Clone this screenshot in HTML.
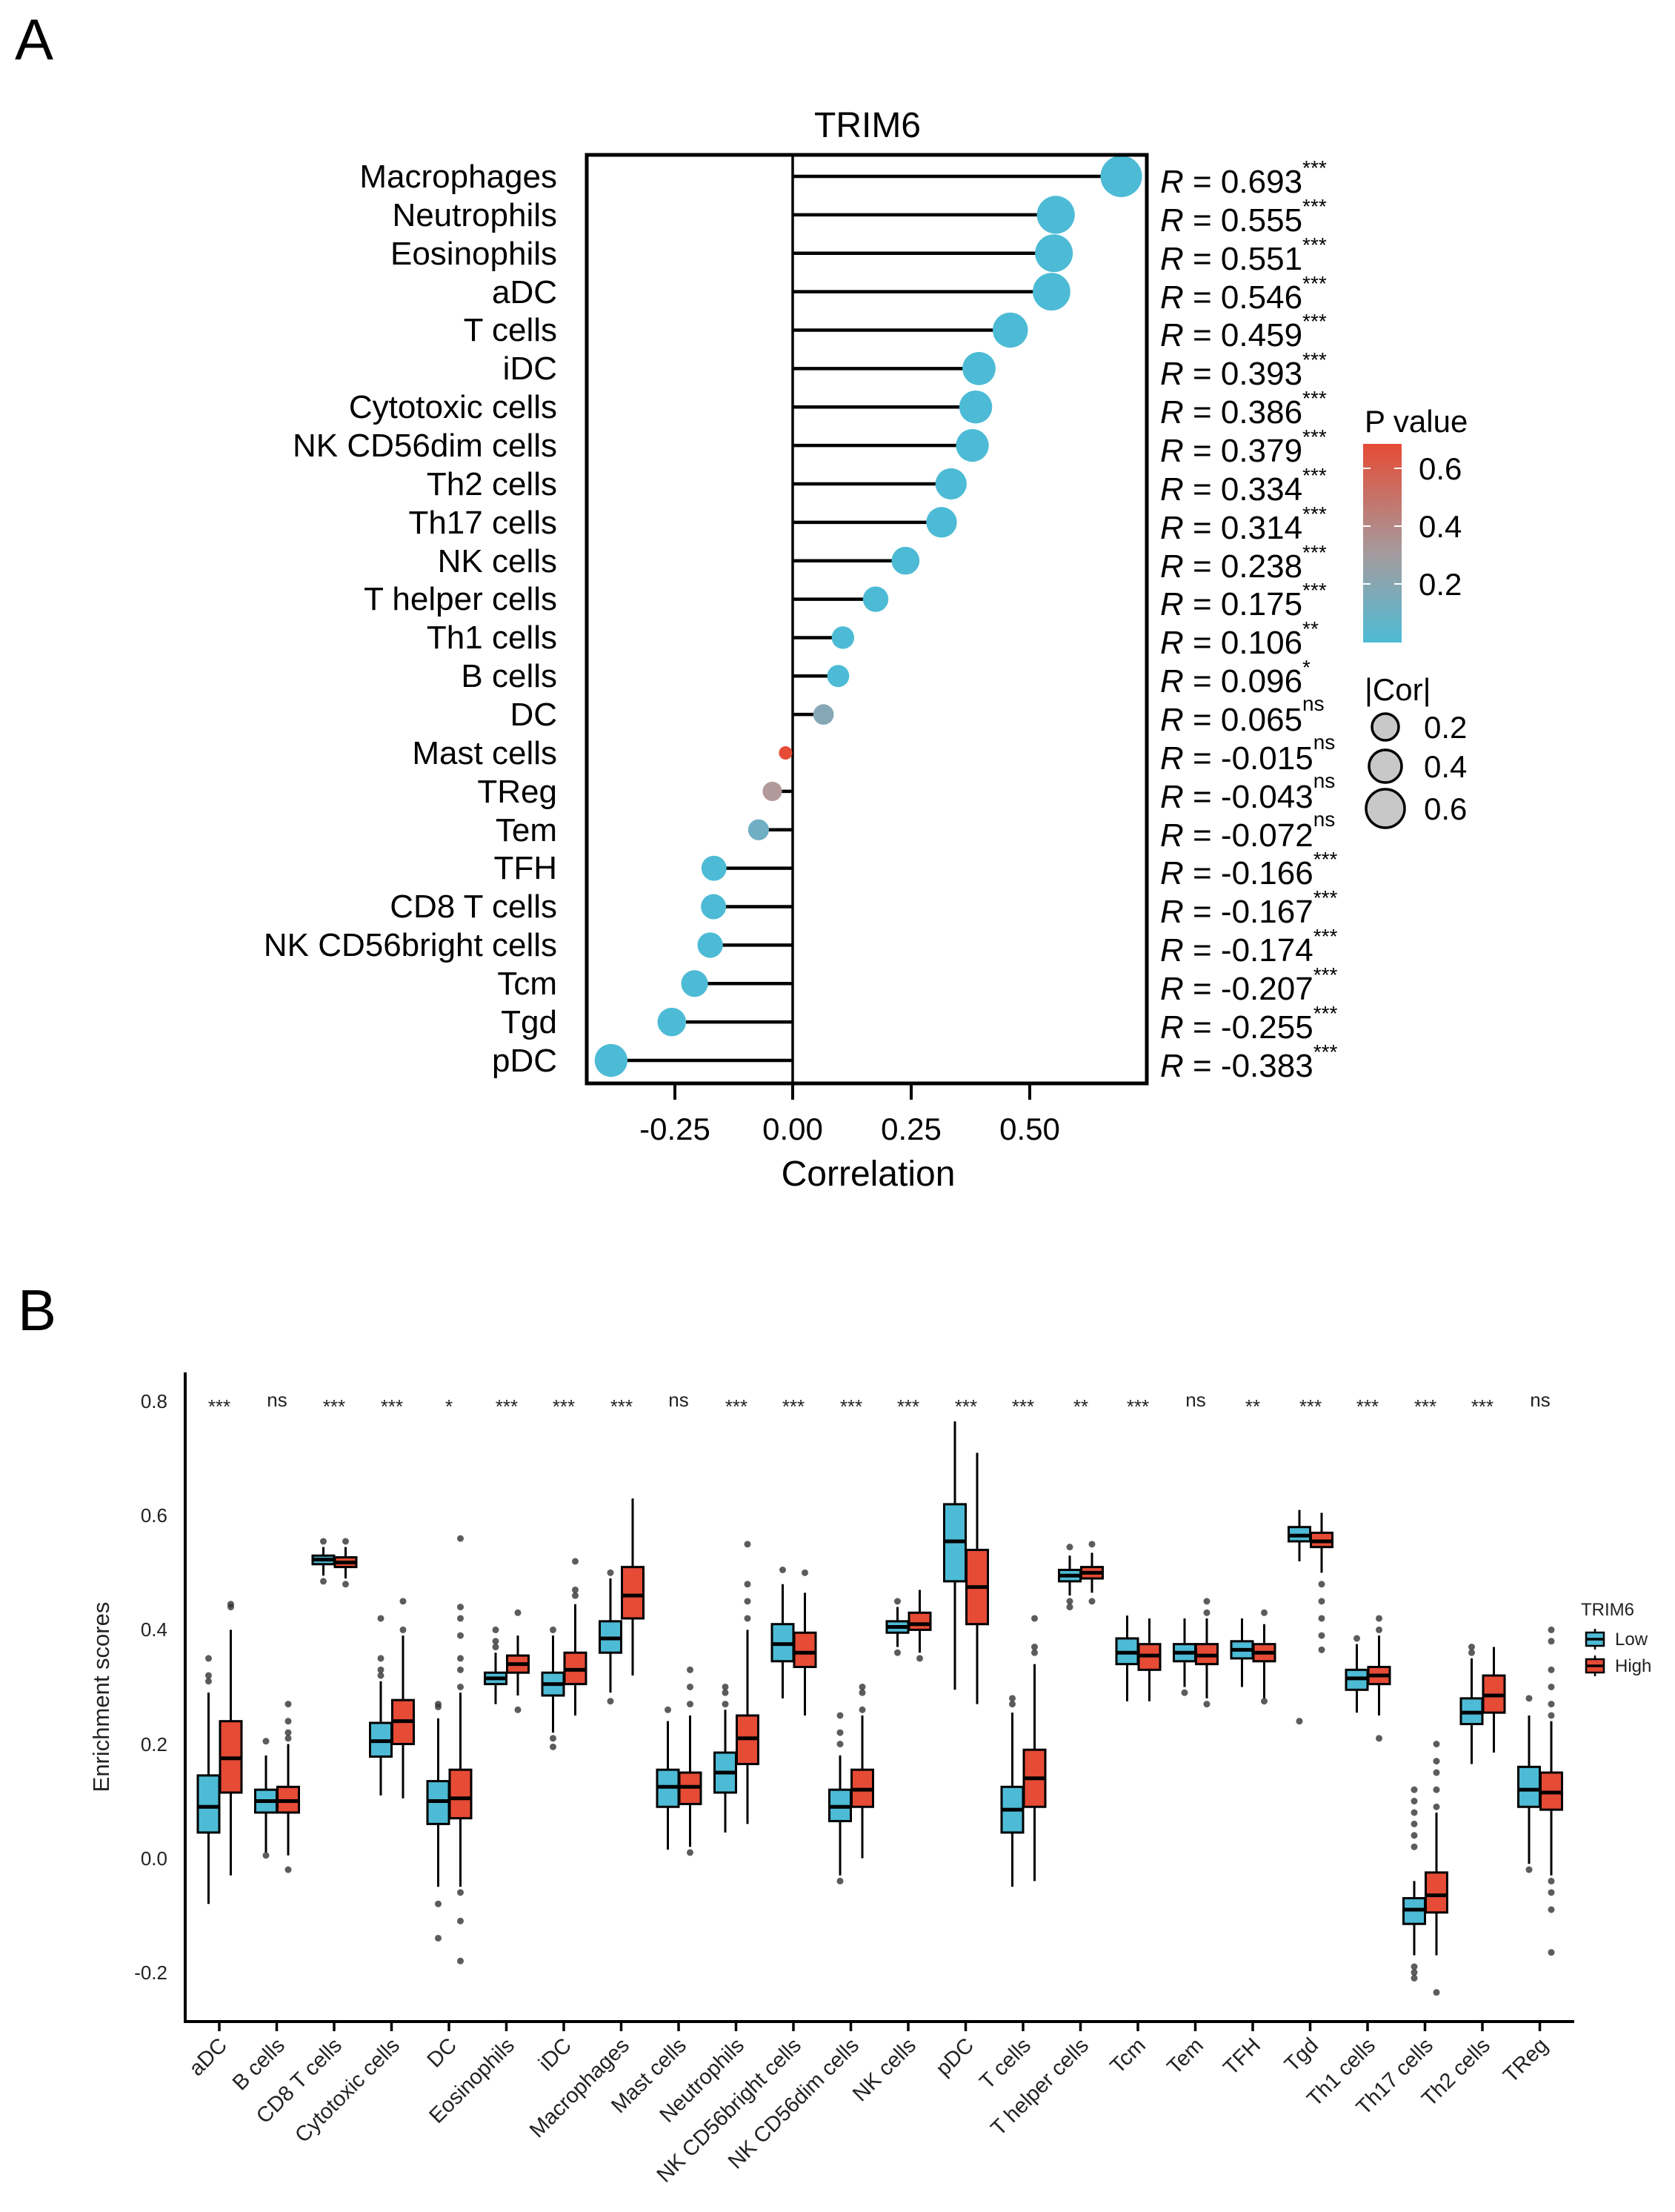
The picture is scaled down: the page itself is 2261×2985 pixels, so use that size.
<!DOCTYPE html>
<html><head><meta charset="utf-8"><style>
html,body{margin:0;padding:0;background:#fff;}
svg{display:block;font-family:"Liberation Sans",Arial,sans-serif;}
</style></head><body>
<svg id="s" width="2261" height="2985" viewBox="0 0 2261 2985" xmlns="http://www.w3.org/2000/svg">
<rect width="2261" height="2985" fill="#fff"/>
<text x="20" y="80" font-size="78">A</text>
<text x="24" y="1795" font-size="78">B</text>
<!-- Panel A -->
<text x="1171" y="185" font-size="48" text-anchor="middle">TRIM6</text>
<g id="lolli"></g>
<rect x="792" y="209" width="756" height="1253" fill="none" stroke="#000" stroke-width="5"/>
<g font-size="44" text-anchor="end">
<text x="752" y="253">Macrophages</text>
<text x="752" y="305">Neutrophils</text>
<text x="752" y="357">Eosinophils</text>
<text x="752" y="409">aDC</text>
<text x="752" y="460">T cells</text>
<text x="752" y="512">iDC</text>
<text x="752" y="564">Cytotoxic cells</text>
<text x="752" y="616">NK CD56dim cells</text>
<text x="752" y="668">Th2 cells</text>
<text x="752" y="720">Th17 cells</text>
<text x="752" y="772">NK cells</text>
<text x="752" y="823">T helper cells</text>
<text x="752" y="875">Th1 cells</text>
<text x="752" y="927">B cells</text>
<text x="752" y="979">DC</text>
<text x="752" y="1031">Mast cells</text>
<text x="752" y="1083">TReg</text>
<text x="752" y="1135">Tem</text>
<text x="752" y="1186">TFH</text>
<text x="752" y="1238">CD8 T cells</text>
<text x="752" y="1290">NK CD56bright cells</text>
<text x="752" y="1342">Tcm</text>
<text x="752" y="1394">Tgd</text>
<text x="752" y="1446">pDC</text>
</g>
<g font-size="44">
<text x="1566" y="260"><tspan font-style="italic">R</tspan> = 0.693<tspan dy="-24" font-size="28">***</tspan></text>
<text x="1566" y="312"><tspan font-style="italic">R</tspan> = 0.555<tspan dy="-24" font-size="28">***</tspan></text>
<text x="1566" y="364"><tspan font-style="italic">R</tspan> = 0.551<tspan dy="-24" font-size="28">***</tspan></text>
<text x="1566" y="416"><tspan font-style="italic">R</tspan> = 0.546<tspan dy="-24" font-size="28">***</tspan></text>
<text x="1566" y="467"><tspan font-style="italic">R</tspan> = 0.459<tspan dy="-24" font-size="28">***</tspan></text>
<text x="1566" y="519"><tspan font-style="italic">R</tspan> = 0.393<tspan dy="-24" font-size="28">***</tspan></text>
<text x="1566" y="571"><tspan font-style="italic">R</tspan> = 0.386<tspan dy="-24" font-size="28">***</tspan></text>
<text x="1566" y="623"><tspan font-style="italic">R</tspan> = 0.379<tspan dy="-24" font-size="28">***</tspan></text>
<text x="1566" y="675"><tspan font-style="italic">R</tspan> = 0.334<tspan dy="-24" font-size="28">***</tspan></text>
<text x="1566" y="727"><tspan font-style="italic">R</tspan> = 0.314<tspan dy="-24" font-size="28">***</tspan></text>
<text x="1566" y="779"><tspan font-style="italic">R</tspan> = 0.238<tspan dy="-24" font-size="28">***</tspan></text>
<text x="1566" y="830"><tspan font-style="italic">R</tspan> = 0.175<tspan dy="-24" font-size="28">***</tspan></text>
<text x="1566" y="882"><tspan font-style="italic">R</tspan> = 0.106<tspan dy="-24" font-size="28">**</tspan></text>
<text x="1566" y="934"><tspan font-style="italic">R</tspan> = 0.096<tspan dy="-24" font-size="28">*</tspan></text>
<text x="1566" y="986"><tspan font-style="italic">R</tspan> = 0.065<tspan dy="-27" font-size="28">ns</tspan></text>
<text x="1566" y="1038"><tspan font-style="italic">R</tspan> = -0.015<tspan dy="-27" font-size="28">ns</tspan></text>
<text x="1566" y="1090"><tspan font-style="italic">R</tspan> = -0.043<tspan dy="-27" font-size="28">ns</tspan></text>
<text x="1566" y="1142"><tspan font-style="italic">R</tspan> = -0.072<tspan dy="-27" font-size="28">ns</tspan></text>
<text x="1566" y="1193"><tspan font-style="italic">R</tspan> = -0.166<tspan dy="-24" font-size="28">***</tspan></text>
<text x="1566" y="1245"><tspan font-style="italic">R</tspan> = -0.167<tspan dy="-24" font-size="28">***</tspan></text>
<text x="1566" y="1297"><tspan font-style="italic">R</tspan> = -0.174<tspan dy="-24" font-size="28">***</tspan></text>
<text x="1566" y="1349"><tspan font-style="italic">R</tspan> = -0.207<tspan dy="-24" font-size="28">***</tspan></text>
<text x="1566" y="1401"><tspan font-style="italic">R</tspan> = -0.255<tspan dy="-24" font-size="28">***</tspan></text>
<text x="1566" y="1453"><tspan font-style="italic">R</tspan> = -0.383<tspan dy="-24" font-size="28">***</tspan></text>
</g>
<g stroke="#000" stroke-width="4">
<line x1="911" y1="1462" x2="911" y2="1484"/><line x1="1070" y1="1462" x2="1070" y2="1484"/>
<line x1="1230" y1="1462" x2="1230" y2="1484"/><line x1="1390" y1="1462" x2="1390" y2="1484"/>
</g>
<g font-size="42" text-anchor="middle">
<text x="911" y="1538">-0.25</text><text x="1070" y="1538">0.00</text>
<text x="1230" y="1538">0.25</text><text x="1390" y="1538">0.50</text>
</g>
<text x="1172" y="1600" font-size="48" text-anchor="middle">Correlation</text>
<!-- legend A -->
<defs><linearGradient id="pg" x1="0" y1="1" x2="0" y2="0">
<stop offset="0" stop-color="#4DBBD5"/><stop offset="0.45" stop-color="#A59B9E"/><stop offset="1" stop-color="#E64B35"/></linearGradient></defs>
<text x="1842" y="583" font-size="42">P value</text>
<rect x="1840" y="599" width="52" height="268" fill="url(#pg)"/>
<g stroke="#fff" stroke-width="2">
<line x1="1840" y1="632" x2="1850" y2="632"/><line x1="1882" y1="632" x2="1892" y2="632"/>
<line x1="1840" y1="710" x2="1850" y2="710"/><line x1="1882" y1="710" x2="1892" y2="710"/>
<line x1="1840" y1="788" x2="1850" y2="788"/><line x1="1882" y1="788" x2="1892" y2="788"/>
</g>
<g font-size="42"><text x="1915" y="647">0.6</text><text x="1915" y="725">0.4</text><text x="1915" y="803">0.2</text>
<text x="1842" y="945">|Cor|</text>
<text x="1922" y="996">0.2</text><text x="1922" y="1049">0.4</text><text x="1922" y="1106">0.6</text></g>
<g fill="#C8C8C8" stroke="#000" stroke-width="3.5">
<circle cx="1870" cy="981" r="18"/><circle cx="1870" cy="1034" r="22"/><circle cx="1870" cy="1091" r="26"/>
</g>
<!-- Panel B -->
<g id="boxes"></g>
<g stroke="#000" stroke-width="4" fill="none">
<line x1="250" y1="1852" x2="250" y2="2730"/>
<line x1="248" y1="2728" x2="2125" y2="2728"/>
</g>
<g id="bticks" stroke="#000" stroke-width="3.5"></g>
<g font-size="26" text-anchor="end" fill="#222">
<text x="226" y="1900">0.8</text><text x="226" y="2054">0.6</text><text x="226" y="2208">0.4</text>
<text x="226" y="2363">0.2</text><text x="226" y="2517">0.0</text><text x="226" y="2671">-0.2</text>
</g>
<text transform="translate(147,2290) rotate(-90)" font-size="31" text-anchor="middle" fill="#222">Enrichment scores</text>
<g font-size="26" text-anchor="middle" fill="#222">
<text x="296" y="1907">***</text><text x="374" y="1898">ns</text><text x="451" y="1907">***</text><text x="529" y="1907">***</text>
<text x="606" y="1907">*</text><text x="684" y="1907">***</text><text x="761" y="1907">***</text><text x="839" y="1907">***</text>
<text x="916" y="1898">ns</text><text x="994" y="1907">***</text><text x="1071" y="1907">***</text><text x="1149" y="1907">***</text>
<text x="1226" y="1907">***</text><text x="1304" y="1907">***</text><text x="1381" y="1907">***</text><text x="1459" y="1907">**</text>
<text x="1536" y="1907">***</text><text x="1614" y="1898">ns</text><text x="1691" y="1907">**</text><text x="1769" y="1907">***</text>
<text x="1846" y="1907">***</text><text x="1924" y="1907">***</text><text x="2001" y="1907">***</text><text x="2079" y="1898">ns</text>
</g>
<g font-size="29" text-anchor="end" fill="#222">
<text transform="translate(308,2762) rotate(-45)">aDC</text>
<text transform="translate(386,2762) rotate(-45)">B cells</text>
<text transform="translate(463,2762) rotate(-45)">CD8 T cells</text>
<text transform="translate(541,2762) rotate(-45)">Cytotoxic cells</text>
<text transform="translate(618,2762) rotate(-45)">DC</text>
<text transform="translate(696,2762) rotate(-45)">Eosinophils</text>
<text transform="translate(773,2762) rotate(-45)">iDC</text>
<text transform="translate(851,2762) rotate(-45)">Macrophages</text>
<text transform="translate(928,2762) rotate(-45)">Mast cells</text>
<text transform="translate(1006,2762) rotate(-45)">Neutrophils</text>
<text transform="translate(1083,2762) rotate(-45)">NK CD56bright cells</text>
<text transform="translate(1161,2762) rotate(-45)">NK CD56dim cells</text>
<text transform="translate(1238,2762) rotate(-45)">NK cells</text>
<text transform="translate(1316,2762) rotate(-45)">pDC</text>
<text transform="translate(1393,2762) rotate(-45)">T cells</text>
<text transform="translate(1471,2762) rotate(-45)">T helper cells</text>
<text transform="translate(1548,2762) rotate(-45)">Tcm</text>
<text transform="translate(1626,2762) rotate(-45)">Tem</text>
<text transform="translate(1703,2762) rotate(-45)">TFH</text>
<text transform="translate(1781,2762) rotate(-45)">Tgd</text>
<text transform="translate(1858,2762) rotate(-45)">Th1 cells</text>
<text transform="translate(1936,2762) rotate(-45)">Th17 cells</text>
<text transform="translate(2013,2762) rotate(-45)">Th2 cells</text>
<text transform="translate(2091,2762) rotate(-45)">TReg</text>
</g>
<!-- legend B -->
<text x="2134" y="2180" font-size="24" fill="#222">TRIM6</text>
<g stroke="#000" stroke-width="2.5">
<line x1="2153" y1="2198" x2="2153" y2="2226"/><rect x="2141" y="2203" width="24" height="18" fill="#4DBBD5"/><line x1="2141" y1="2212" x2="2165" y2="2212" stroke-width="3.5"/>
<line x1="2153" y1="2234" x2="2153" y2="2262"/><rect x="2141" y="2239" width="24" height="18" fill="#E64B35"/><line x1="2141" y1="2248" x2="2165" y2="2248" stroke-width="3.5"/>
</g>
<g font-size="24" fill="#222"><text x="2180" y="2220">Low</text><text x="2180" y="2256">High</text></g>
</svg>
<script>
(function(){
var NS="http://www.w3.org/2000/svg";
function el(p,t,a){var e=document.createElementNS(NS,t);for(var k in a)e.setAttribute(k,a[k]);p.appendChild(e);return e;}
// Panel A lollipops
var vals=[.693,.555,.551,.546,.459,.393,.386,.379,.334,.314,.238,.175,.106,.096,.065,-.015,-.043,-.072,-.166,-.167,-.174,-.207,-.255,-.383];
var cols={14:"#86A8B6",15:"#E64B35",16:"#B39A9A",17:"#70AEC3"};
var g=document.getElementById("lolli");
for(var i=0;i<vals.length;i++){
 var y=238+i*51.87, x=1070+vals[i]*640;
 el(g,"line",{x1:1070,y1:y,x2:x,y2:y,stroke:"#000","stroke-width":4.5});
}
el(g,"line",{x1:1070,y1:209,x2:1070,y2:1462,stroke:"#000","stroke-width":3.5});
for(var i=0;i<vals.length;i++){
 var y=238+i*51.87, x=1070+vals[i]*640, c=Math.abs(vals[i]);
 var r=Math.sqrt(943*(c+0.139)); if(i==15) r=9;
 el(g,"circle",{cx:x,cy:y,r:r,fill:cols[i]||"#4DBBD5"});
}
// Panel B
function Y(v){return 2507.6-v*770.5;}
var D=[
[[.045,.09,.145,-.08,.29,[.31,.32,.35]],[.115,.175,.24,-.03,.40,[.44,.445]]],
[[.08,.10,.12,.01,.18,[.205,.005]],[.08,.10,.125,.005,.20,[.21,.22,.24,.27,-.02]]],
[[.515,.523,.53,.495,.545,[.485,.555]],[.51,.518,.527,.49,.545,[.48,.555]]],
[[.178,.205,.237,.11,.31,[.32,.33,.35,.42]],[.20,.24,.277,.105,.39,[.40,.45]]],
[[.06,.10,.135,-.05,.245,[.265,.27,-.08,-.14]],[.07,.105,.155,-.05,.29,[.30,.33,.35,.39,.42,.44,.56,-.06,-.11,-.18]]],
[[.305,.315,.325,.27,.36,[.37,.38,.40]],[.325,.34,.355,.285,.39,[.26,.43]]],
[[.285,.305,.325,.22,.39,[.21,.195,.40]],[.305,.33,.36,.25,.445,[.46,.47,.52]]],
[[.36,.385,.415,.29,.49,[.50,.275]],[.42,.46,.51,.32,.63,[]]],
[[.09,.125,.155,.015,.24,[.26]],[.095,.125,.15,.02,.25,[.01,.27,.30,.33]]],
[[.115,.15,.185,.045,.26,[.27,.29,.30]],[.165,.21,.25,.06,.40,[.42,.45,.48,.55]]],
[[.345,.375,.41,.28,.48,[.505]],[.335,.36,.395,.25,.465,[.50]]],
[[.065,.09,.12,-.03,.18,[.20,.22,.25,-.04]],[.09,.12,.155,0,.25,[.26,.29,.30]]],
[[.395,.405,.415,.37,.44,[.36,.45]],[.40,.41,.43,.36,.47,[.35]]],
[[.485,.555,.62,.295,.765,[]],[.41,.475,.54,.27,.71,[]]],
[[.045,.085,.125,-.05,.255,[.27,.28]],[.09,.14,.19,-.04,.34,[.36,.37,.42]]],
[[.485,.495,.505,.46,.53,[.44,.45,.545]],[.49,.50,.51,.465,.535,[.45,.55]]],
[[.34,.36,.385,.275,.425,[]],[.33,.355,.375,.275,.42,[]]],
[[.345,.36,.375,.30,.42,[.29]],[.34,.355,.375,.28,.42,[.27,.43,.45]]],
[[.35,.365,.38,.30,.42,[]],[.345,.36,.375,.28,.41,[.275,.43]]],
[[.555,.565,.58,.52,.61,[.24]],[.545,.555,.57,.50,.605,[.48,.45,.42,.39,.365]]],
[[.295,.315,.33,.255,.375,[.385]],[.305,.32,.335,.25,.39,[.40,.42,.21]]],
[[-.115,-.09,-.07,-.17,-.04,[.02,.04,.06,.08,.10,.12,-.19,-.20,-.21]],[-.095,-.065,-.025,-.17,.08,[.09,.12,.15,.17,.20,-.235]]],
[[.235,.255,.28,.165,.35,[.36,.37]],[.255,.285,.32,.185,.37,[]]],
[[.09,.12,.16,-.01,.25,[.28,-.02]],[.085,.115,.15,-.03,.24,[.25,.27,.30,.33,.38,.40,-.04,-.06,-.09,-.165]]]
];
var bg=document.getElementById("boxes"), tg=document.getElementById("bticks");
for(var i=0;i<24;i++){
 var c=296+77.5*i;
 el(tg,"line",{x1:c,y1:2728,x2:c,y2:2741});
 for(var j=0;j<2;j++){
  var d=D[i][j], x0=j?c+1:c-29, xm=x0+14.5, col=j?"#E64B35":"#4DBBD5";
  el(bg,"line",{x1:xm,y1:Y(d[4]),x2:xm,y2:Y(d[3]),stroke:"#000","stroke-width":3});
  el(bg,"rect",{x:x0,y:Y(d[2]),width:29,height:Y(d[0])-Y(d[2]),fill:col,stroke:"#000","stroke-width":3});
  el(bg,"line",{x1:x0,y1:Y(d[1]),x2:x0+29,y2:Y(d[1]),stroke:"#000","stroke-width":5});
  d[5].forEach(function(o){el(bg,"circle",{cx:xm,cy:Y(o),r:4.5,fill:"#333","fill-opacity":0.8});});
 }
}
})();
</script>
</body></html>
